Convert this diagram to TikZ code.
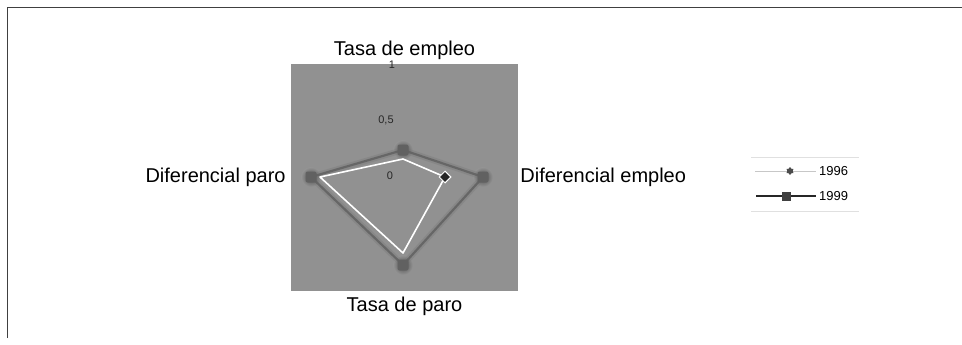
\documentclass[tikz,border=0pt]{standalone}
\usepackage{fontspec}
\setmainfont{Liberation Sans}
\usetikzlibrary{positioning,shapes,calc}

\begin{document}
\begin{tikzpicture}[x=1pt,y=-1pt,node distance=5pt,
    axlab/.style={font=\fontsize{20}{23}\selectfont,inner sep=1pt},
    ticklab/.style={font=\fontsize{11}{13}\selectfont,text=black!85,inner sep=0pt},
    leglab/.style={font=\fontsize{13}{15}\selectfont,inner sep=0pt,anchor=west},
    halo/.style={circle,minimum size=20pt,inner sep=0pt,shading=radial,inner color=black!70,outer color=black!42},
    sqmark/.style={draw=none,fill=black!62,rounded corners=2pt,minimum size=11pt,inner sep=0pt},
    diamark/.style={diamond,draw=white,line width=1pt,fill=black!85,minimum size=12pt,inner sep=0pt},
    glow99/.style={black!55,line width=6pt,line join=round,opacity=0.3},
    line99/.style={black!62,line width=2.2pt,line join=round,opacity=0.85},
    line96/.style={white,line width=1.6pt,line join=round}]
  \useasboundingbox (0,0) rectangle (962,345);
  % frame
  \draw[black!75,line width=1pt] (7,338) -- (7,8) -- (962,8);

  % plot area
  \node[fill=black!43,minimum width=227pt,minimum height=227pt,inner sep=0pt] (plot) at (404.5,177.5) {};
  \node[axlab,above=3pt of plot] (te) {Tasa de empleo};
  \node[axlab,below=5pt of plot] (tp) {Tasa de paro};
  \node[axlab,left=4pt of plot] (dp) {Diferencial paro};
  \node[axlab,right=1pt of plot] (de) {Diferencial empleo};

  % ticks
  \node[ticklab] (k1) at (392,65) {1};
  \node[ticklab] (k05) at (386,120) {0,5};
  \node[ticklab] (k0) at (390,176) {0};

  % 1999
  \coordinate (t99) at (403,150);
  \coordinate (r99) at (483,177);
  \coordinate (b99) at (403,265);
  \coordinate (l99) at (311,177);
  \foreach \p in {t99,r99,b99,l99}
    \node[halo] at (\p) {};
  \draw[glow99] (t99) -- (r99) -- (b99) -- (l99) -- cycle;
  \draw[line99] (t99) -- (r99) -- (b99) -- (l99) -- cycle;
  \foreach \p in {t99,r99,b99,l99}
    \node[sqmark] at (\p) {};

  % 1996
  \coordinate (t96) at (403,159);
  \coordinate (r96) at (445,177);
  \coordinate (b96) at (403,253);
  \coordinate (l96) at (320,177);
  \draw[line96] (t96) -- (r96) -- (b96) -- (l96) -- cycle;
  \node[diamark] (d96) at (r96) {};

  % legend
  \draw[black!12] (751,157) -- (859,157);
  \draw[black!12] (751,211) -- (859,211);
  \coordinate (ga) at (755,171);
  \coordinate (gb) at (816,171);
  \draw[black!22,line width=0.8pt] (ga) -- (gb);
  \node[star,star points=6,fill=black!70,minimum size=8pt,inner sep=0pt] (g96) at (790,171) {};
  \node[leglab,right=3pt of gb] (n96) {1996};
  \coordinate (ha) at (756,196);
  \coordinate (hb) at (816,196);
  \draw[black!85,line width=1.2pt] (ha) -- (hb);
  \node[fill=black!75,minimum size=9pt,inner sep=0pt] (g99) at (786,196) {};
  \node[leglab,right=3pt of hb] (n99) {1999};
\end{tikzpicture}
\end{document}
